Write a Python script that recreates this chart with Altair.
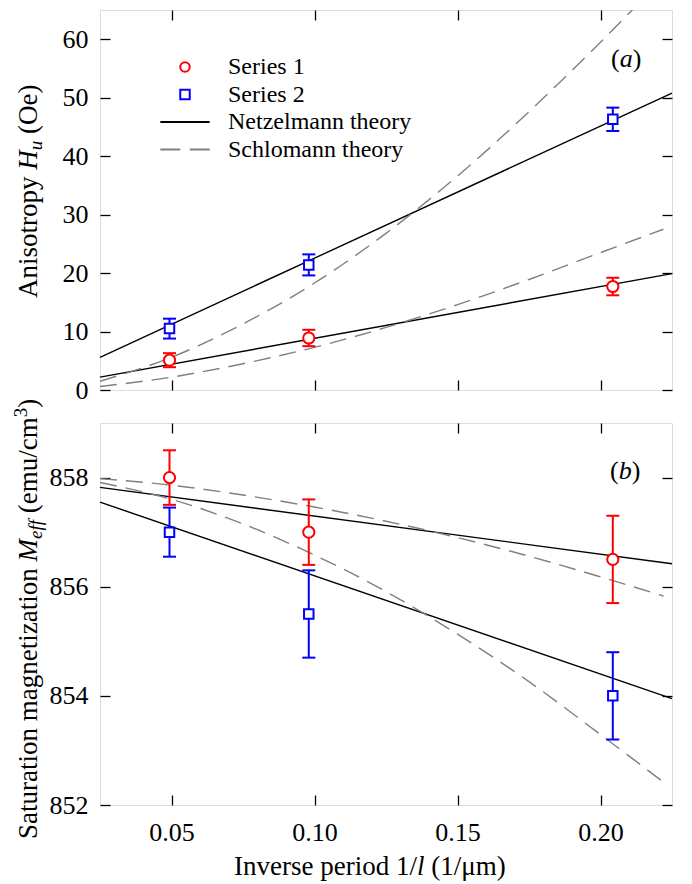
import altair as alt
import pandas as pd

# ---------------- data ----------------
categories = ["Series 1", "Series 2", "Netzelmann theory", "Schlomann theory"]
inv_period = [0.0493, 0.098, 0.2043]

a_series1 = [5.1, 8.9, 17.7]
a_series1_err = [1.2, 1.4, 1.5]
a_series2 = [10.5, 21.4, 46.3]
a_series2_err = [1.7, 1.8, 2.0]

b_series1 = [858.0, 857.0, 856.5]
b_series1_err = [0.5, 0.6, 0.8]
b_series2 = [857.0, 855.5, 854.0]
b_series2_err = [0.45, 0.8, 0.8]

netz_x = [0.025, 0.225]
a_netz1 = [2.2, 19.9]
a_netz2 = [5.6, 50.8]
b_netz1 = [857.82, 856.42]
b_netz2 = [857.55, 853.95]

schl_x = [0.025, 0.05, 0.075, 0.10, 0.125, 0.15, 0.175, 0.20, 0.222]
a_schl1 = [0.6, 2.2, 4.5, 7.3, 10.7, 14.6, 18.9, 23.5, 27.5]
a_schl2 = [1.5, 5.6, 11.3, 18.3, 26.8, 36.6, 47.6, 59.5, 70.5]
b_schl1 = [857.98, 857.86, 857.68, 857.46, 857.20, 856.90, 856.56, 856.18, 855.83]
b_schl2 = [857.91, 857.60, 857.15, 856.58, 855.91, 855.13, 854.26, 853.29, 852.42]

x_ticks = [0.05, 0.10, 0.15, 0.20]
a_ticks = [0, 10, 20, 30, 40, 50, 60]
b_ticks = [852, 854, 856, 858]

# ---------------- styling ----------------
FONT = "Liberation Serif"
W = 572
XDOM = [0.025, 0.225]
COLORS = ["#ff0000", "#0000ff", "#000000", "#808080"]
SHAPES = ["circle", "square", "M-5.2,0L5.2,0", "M-5.2,0L-1,0M1,0L5.2,0"]
WIDTHS = [2, 2, 1.4, 1.4]
TS = 10  # inward tick length

REG = {' ': 250, '(': 333, ')': 333, '/': 278, '.': 250, 'A': 722, 'I': 333,
       'M': 889, 'O': 722, 'S': 556, 'a': 444, 'c': 444, 'd': 500, 'e': 444,
       'g': 500, 'i': 278, 'm': 778, 'n': 500, 'o': 500, 'p': 500, 'r': 333,
       's': 389, 't': 278, 'u': 500, 'v': 500, 'y': 500, 'z': 444, 'l': 278,
       'h': 500, 'μ': 576}
ITA = {'H': 722, 'u': 500, 'M': 833, 'e': 444, 'f': 278, 'l': 278, 'a': 500, 'b': 500}


def tw(text, size, italic):
    tab = ITA if italic else REG
    return sum(tab.get(c, 500) for c in text) * size / 1000.0


def piece(text, x, y, size, italic, angle=0):
    kw = dict(text=text, font=FONT, fontSize=size, color="black",
              fontStyle="italic" if italic else "normal",
              align="left", baseline="alphabetic")
    if angle:
        kw["angle"] = angle
    return alt.Chart(alt.Data(values=[{"k": 1}])).mark_text(**kw).encode(
        x=alt.value(x), y=alt.value(y))


def split_lead(text, size, italic):
    body = text.lstrip(" ")
    lead = tw(" " * (len(text) - len(body)), size, False)
    return body, lead


def rot_title(pieces, x0, y0):
    # pieces: (text, size, italic, shift) ; reads bottom-to-top
    out = []
    y = y0
    for text, size, italic, shift in pieces:
        body, lead = split_lead(text, size, italic)
        y -= lead
        out.append(piece(body, x0 + shift, y, size, italic, angle=270))
        y -= tw(body, size, italic)
    return out


def hor_title(pieces, x0, y0):
    out = []
    x = x0
    for text, size, italic, shift in pieces:
        body, lead = split_lead(text, size, italic)
        x += lead
        out.append(piece(body, x, y0 + shift, size, italic))
        x += tw(body, size, italic)
    return out


def make_panel(h, ydom, yticks, s1, s1e, s2, s2e, n1, n2, c1, c2,
               show_xlabels, legend, texts):
    xs = alt.Scale(domain=XDOM, nice=False, zero=False)
    ys = alt.Scale(domain=ydom, nice=False, zero=False)
    common = dict(domain=False, grid=False, tickSize=TS, offset=-TS,
                  tickColor="black", tickWidth=1.3, title=None)
    ax_left = alt.Axis(orient="left", values=yticks, labelFont=FONT,
                       labelFontSize=26, labelColor="black", labelPadding=12,
                       **common)
    ax_right = alt.Axis(orient="right", values=yticks, labels=False, **common)
    ax_bottom = alt.Axis(orient="bottom", values=x_ticks, format=".2f",
                         labels=show_xlabels, labelFont=FONT, labelFontSize=26,
                         labelColor="black", labelPadding=14, **common)
    ax_top = alt.Axis(orient="top", values=x_ticks, labels=False, **common)

    netz = pd.DataFrame({"x": netz_x * 2, "v": n1 + n2,
                         "curve": ["n1"] * len(netz_x) + ["n2"] * len(netz_x)})
    schl = pd.DataFrame({"x": schl_x * 2, "v": c1 + c2,
                         "curve": ["c1"] * len(schl_x) + ["c2"] * len(schl_x)})
    pts = pd.DataFrame({
        "x": inv_period * 2,
        "v": s1 + s2,
        "lo": [a - e for a, e in zip(s1, s1e)] + [a - e for a, e in zip(s2, s2e)],
        "hi": [a + e for a, e in zip(s1, s1e)] + [a + e for a, e in zip(s2, s2e)],
        "series": ["Series 1"] * 3 + ["Series 2"] * 3,
    })

    l_netz = alt.Chart(netz).mark_line(color="black", strokeWidth=1.4).encode(
        x=alt.X("x:Q", scale=xs, axis=ax_bottom),
        y=alt.Y("v:Q", scale=ys, axis=ax_left),
        detail="curve:N")
    l_schl = alt.Chart(schl).mark_line(color="#808080", strokeWidth=1.4,
                                       strokeDash=[17, 9], clip=True,
                                       interpolate="monotone").encode(
        x=alt.X("x:Q", scale=xs, axis=ax_top),
        y=alt.Y("v:Q", scale=ys, axis=ax_right),
        detail="curve:N")
    stroke = alt.Stroke("series:N", legend=None,
                        scale=alt.Scale(domain=categories[:2], range=COLORS[:2]))
    l_err = alt.Chart(pts).mark_rule(strokeWidth=2).encode(
        x=alt.X("x:Q", scale=xs, axis=None),
        y=alt.Y("lo:Q", scale=ys, axis=None),
        y2="hi:Q", stroke=stroke)
    l_cap = alt.Chart(pts).transform_fold(["lo", "hi"], as_=["end", "cv"]).mark_point(
        shape="M-1,0L1,0", size=169, strokeWidth=2, filled=False, opacity=1).encode(
        x=alt.X("x:Q", scale=xs, axis=None),
        y=alt.Y("cv:Q", scale=ys, axis=None),
        stroke=stroke)
    l_pts = alt.Chart(pts).mark_point(filled=False, fill="white", opacity=1).encode(
        x=alt.X("x:Q", scale=xs, axis=None),
        y=alt.Y("v:Q", scale=ys, axis=None),
        color=alt.Color("series:N", legend=legend,
                        scale=alt.Scale(domain=categories, range=COLORS)),
        shape=alt.Shape("series:N", legend=legend,
                        scale=alt.Scale(domain=categories, range=SHAPES)),
        strokeWidth=alt.StrokeWidth("series:N", legend=legend,
                                    scale=alt.Scale(domain=categories, range=WIDTHS)),
        size=alt.Size("series:N", legend=None,
                      scale=alt.Scale(domain=categories[:2], range=[125, 90])))

    layers = [l_netz, l_schl, l_err, l_cap, l_pts] + texts
    return alt.layer(*layers).resolve_scale(x="independent", y="independent").properties(
        width=W, height=h)


leg = alt.Legend(orient="none", legendX=73, legendY=45, title=None,
                 labelFont=FONT, labelFontSize=24, labelColor="black",
                 labelLimit=0, symbolSize=90, labelOffset=31, rowPadding=3.5,
                 padding=0, labelBaseline="middle")

TS_TITLE = 27
SUB = 19

top_texts = rot_title([("Anisotropy ", TS_TITLE, False, 0),
                       ("H", TS_TITLE, True, 0),
                       ("u", SUB, True, 5),
                       (" (Oe)", TS_TITLE, False, 0)], -63, 288)
top_texts += hor_title([("(", 26, False, 0), ("a", 26, True, 0), (")", 26, False, 0)],
                       511, 57)

bot_texts = rot_title([("Saturation magnetization ", TS_TITLE, False, 0),
                       ("M", TS_TITLE, True, 0),
                       ("eff", SUB, True, 5),
                       (" (emu/cm", TS_TITLE, False, 0),
                       ("3", SUB, False, -10),
                       (")", TS_TITLE, False, 0)], -63, 416)
bot_texts += hor_title([("(", 26, False, 0), ("b", 26, True, 0), (")", 26, False, 0)],
                       510, 56)
bot_texts += hor_title([("Inverse period 1/", TS_TITLE, False, 0),
                        ("l", TS_TITLE, True, 0),
                        (" (1/μm)", TS_TITLE, False, 0)], 134, 452)

top = make_panel(380, [0, 65], a_ticks, a_series1, a_series1_err, a_series2,
                 a_series2_err, a_netz1, a_netz2, a_schl1, a_schl2, False, leg,
                 top_texts)
bottom = make_panel(382, [852, 859], b_ticks, b_series1, b_series1_err, b_series2,
                    b_series2_err, b_netz1, b_netz2, b_schl1, b_schl2, True, None,
                    bot_texts)

chart = alt.vconcat(top, bottom, spacing=33, bounds="flush").resolve_scale(
    x="independent", y="independent", color="independent", shape="independent",
    strokeWidth="independent", stroke="independent", size="independent").configure_view(
    stroke="#111111", strokeWidth=1.5).configure_axis(
    labelFont=FONT, labelFontSize=26, labelColor="black").configure_legend(
    labelFont=FONT, labelFontSize=24, labelColor="black").configure(
    font=FONT).properties(
    padding={"left": 3, "top": 0, "right": 5, "bottom": 0},
    background="white")

chart.save("out.html", embed_options={"renderer": "svg", "actions": False})
